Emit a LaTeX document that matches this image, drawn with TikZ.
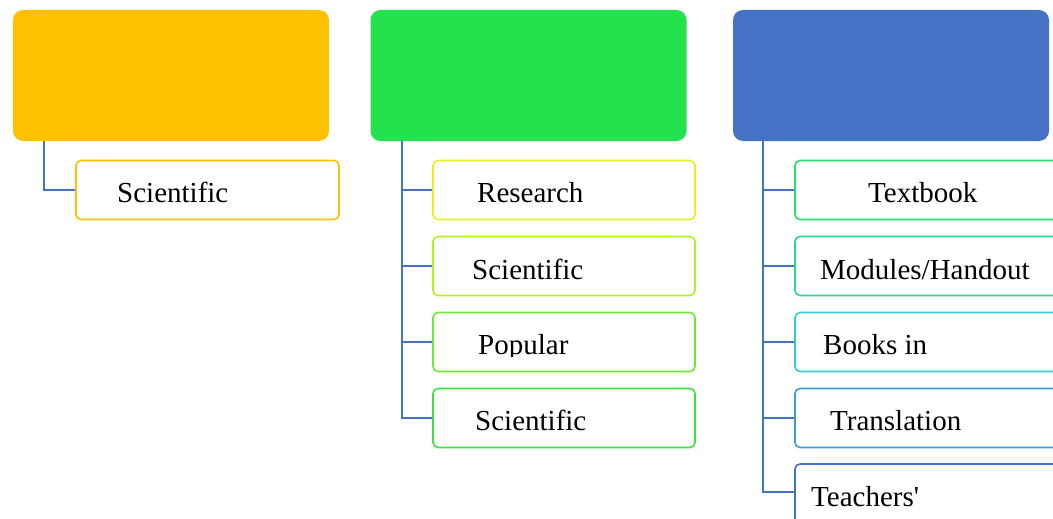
\documentclass[tikz,border=0pt]{standalone}
\usepackage{fontspec}
\setmainfont{Liberation Serif}
\definecolor{cOrange}{RGB}{255,192,0}
\definecolor{cGreen}{RGB}{36,226,78}
\definecolor{cBlue}{RGB}{68,114,196}
\definecolor{cM1}{RGB}{232,240,36}
\definecolor{cM2}{RGB}{178,240,36}
\definecolor{cM3}{RGB}{110,232,50}
\definecolor{cM4}{RGB}{60,226,62}
\definecolor{cR1}{RGB}{44,220,110}
\definecolor{cR2}{RGB}{44,212,150}
\definecolor{cR3}{RGB}{52,204,204}
\definecolor{cR4}{RGB}{62,156,212}
\definecolor{cR5}{RGB}{68,114,196}
\tikzset{
  topbox/.style={rectangle, rounded corners=10pt, minimum width=316pt, minimum height=131pt, inner sep=0pt, draw=none},
  childbox/.style={rectangle, rounded corners=5pt, line width=1.6pt, fill=white, minimum height=59pt, inner sep=0pt},
  lbl/.style={anchor=base west, inner sep=0pt, font=\fontsize{29}{34}\selectfont, text=black},
  conn/.style={draw=cBlue, line width=1.8pt},
}
\begin{document}
\begin{tikzpicture}[x=1pt,y=-1pt]
\useasboundingbox (0,0) rectangle (1053,519);
% top boxes
\node[topbox, fill=cOrange] (A) at (171,75.5) {};
\node[topbox, fill=cGreen] (B) at (528.5,75.5) {};
\node[topbox, fill=cBlue] (C) at (891,75.5) {};
% trunk coordinates
\coordinate (ta) at (44,141);
\coordinate (tb) at (402,141);
\coordinate (tc) at (763,141);
% left child
\node[childbox, draw=cOrange, minimum width=263pt] (a1) at (207.5,190) {};
% middle children
\node[childbox, draw=cM1, minimum width=262pt] (b1) at (564,190) {};
\node[childbox, draw=cM2, minimum width=262pt] (b2) at (564,266) {};
\node[childbox, draw=cM3, minimum width=262pt] (b3) at (564,342) {};
\node[childbox, draw=cM4, minimum width=262pt] (b4) at (564,418) {};
% right children
\node[childbox, draw=cR1, minimum width=268pt] (c1) at (929,190) {};
\node[childbox, draw=cR2, minimum width=268pt] (c2) at (929,266) {};
\node[childbox, draw=cR3, minimum width=268pt] (c3) at (929,342) {};
\node[childbox, draw=cR4, minimum width=268pt] (c4) at (929,418) {};
\node[childbox, draw=cR5, minimum width=268pt, minimum height=80pt] (c5) at (929,504) {};
% connectors
\draw[conn] (ta) |- (a1.west);
\draw[conn] (tb) |- (b4.west);
\draw[conn] (tb |- b1.west) -- (b1.west);
\draw[conn] (tb |- b2.west) -- (b2.west);
\draw[conn] (tb |- b3.west) -- (b3.west);
\draw[conn] (tc) |- (c5.west |- 0,492);
\draw[conn] (tc |- c1.west) -- (c1.west);
\draw[conn] (tc |- c2.west) -- (c2.west);
\draw[conn] (tc |- c3.west) -- (c3.west);
\draw[conn] (tc |- c4.west) -- (c4.west);
% labels
\node[lbl] (la1) at (117,202) {Scientific};
\node[lbl] (lb1) at (477,202) {Research};
\node[lbl] (lb2) at (472,279) {Scientific};
\begin{scope}
\clip (440,320) rectangle (690,356);
\node[lbl] (lb3) at (478,354) {Popular};
\end{scope}
\node[lbl] (lb4) at (475,430) {Scientific};
\node[lbl] (lc1) at (868,202) {Textbook};
\node[lbl] (lc2) at (820,279) {Modules/Handout};
\node[lbl] (lc3) at (823,354) {Books in};
\node[lbl] (lc4) at (830,430) {Translation};
\node[lbl] (lc5) at (811,506) {Teachers\textquotesingle};
\end{tikzpicture}
\end{document}
